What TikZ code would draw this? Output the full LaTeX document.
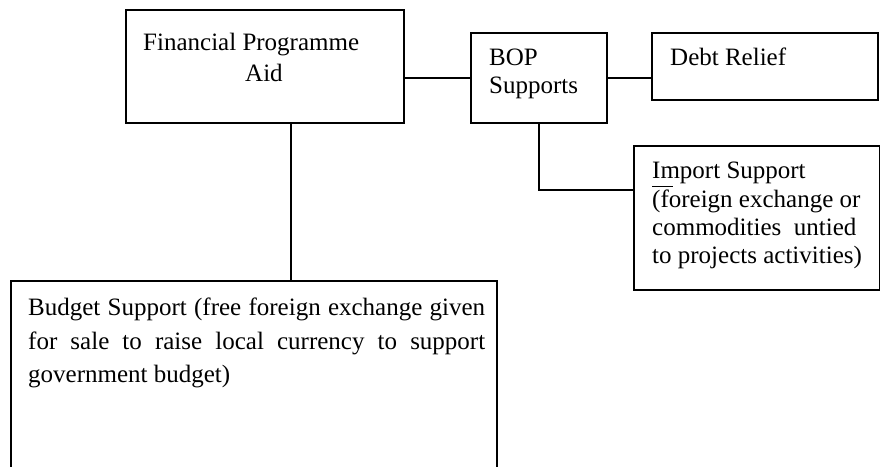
\documentclass[tikz,border=0pt]{standalone}
\usepackage{fontspec}
\setmainfont{Liberation Serif}
\begin{document}
\begin{tikzpicture}[x=1pt,y=-1pt,
  box/.style={draw, line width=1.8pt, inner sep=0pt, anchor=north west},
  txt/.style={anchor=base west, inner sep=0pt, font=\fontsize{25}{29}\selectfont},
  conn/.style={line width=1.8pt}]
\clip (0,0) rectangle (880,466);
\fill[white] (0,0) rectangle (880,466);
% boxes
\node[box, minimum width=278pt, minimum height=113pt] (fpa) at (125,9) {};
\node[box, minimum width=136pt, minimum height=90pt] (bop) at (470,32) {};
\node[box, minimum width=226pt, minimum height=67pt] (debt) at (651,32) {};
\node[box, minimum width=246pt, minimum height=144pt] (imp) at (633,145) {};
\node[box, minimum width=486pt, minimum height=260pt] (bud) at (10,280) {};
% connectors
\draw[conn] (bop.west) -- (bop.west -| fpa.east);
\draw[conn] (bop.east) -- (bop.east -| debt.west);
\draw[conn] (bop.south) |- ([yshift=28pt]imp.west);
\draw[conn] ([xshift=26pt]fpa.south) -- ([xshift=26pt]fpa.south |- bud.north);
% texts
\node[txt] (t1) at (143,50) {Financial Programme};
\node[txt] (t2) at (245,81) {Aid};
\node[txt] (t3) at (489,65) {BOP};
\node[txt] (t4) at (489,93) {Supports};
\node[txt] (t5) at (670,65) {Debt Relief};
\node[txt] (t6) at (652,178) {Import Support};
\node[txt] (t7) at (652,207) {(foreign exchange or};
\node[txt] (t8) at (652,235) {commodities\ \ untied};
\node[txt] (t9) at (652,263) {to projects activities)};
\draw[line width=1pt] (652,186) -- (673,186);
\node[txt] (t10) at (28,315) {\makebox[457pt][s]{Budget Support (free foreign exchange given}};
\node[txt] (t11) at (28,349) {\makebox[457pt][s]{for sale to raise local currency to support}};
\node[txt] (t12) at (28,382) {government budget)};
\end{tikzpicture}
\end{document}
